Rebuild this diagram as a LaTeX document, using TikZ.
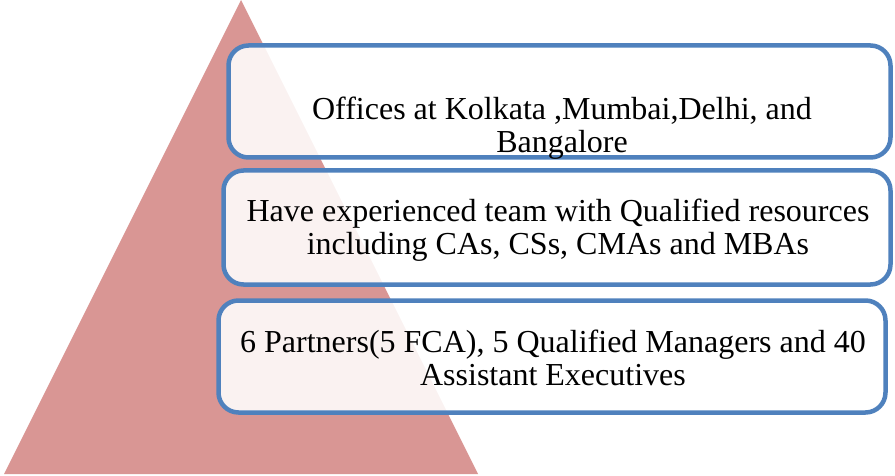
\documentclass[tikz,border=0pt]{standalone}
\usepackage{fontspec}
\setmainfont{Liberation Serif}
\usepackage{tikz}
\usetikzlibrary{positioning}
\definecolor{pyramidred}{HTML}{D99694}
\definecolor{boxblue}{HTML}{4F81BD}

\begin{document}
\begin{tikzpicture}[x=1pt,y=-1pt]
	\tikzstyle{tierbox}=[rectangle, draw=boxblue, line width=4.5pt, rounded corners=20pt,
	fill=white, fill opacity=0.88, inner sep=0pt]
	\tikzstyle{tiertext}=[text=black, align=center, font=\fontsize{32}{33}\selectfont]
	\useasboundingbox (0,0) rectangle (895,476);
	% pyramid
	\coordinate (apex) at (241,0);
	\coordinate (baseL) at (4,474);
	\coordinate (baseR) at (478,474);
	\fill[pyramidred] (apex) -- (baseL) -- (baseR) -- cycle;
	% tiers
	\node (Offices) [tierbox, minimum width=662pt, minimum height=112pt] at (559.5,101.5) {};
	\node (Team) [tierbox, minimum width=667pt, minimum height=114pt] at (557,227.5) {};
	\node (Partners) [tierbox, minimum width=667pt, minimum height=112pt] at (552,356.5) {};
	\node (OfficesText) [tiertext] at (562,128) {Offices at Kolkata ,Mumbai,Delhi, and\\Bangalore};
	\node (TeamText) [tiertext] at (558,230) {Have experienced team with Qualified resources\\including CAs, CSs, CMAs and MBAs};
	\node (PartnersText) [tiertext] at (553,358) {6 Partners(5 FCA), 5 Qualified Managers and 40\\Assistant Executives};
\end{tikzpicture}
\end{document}
